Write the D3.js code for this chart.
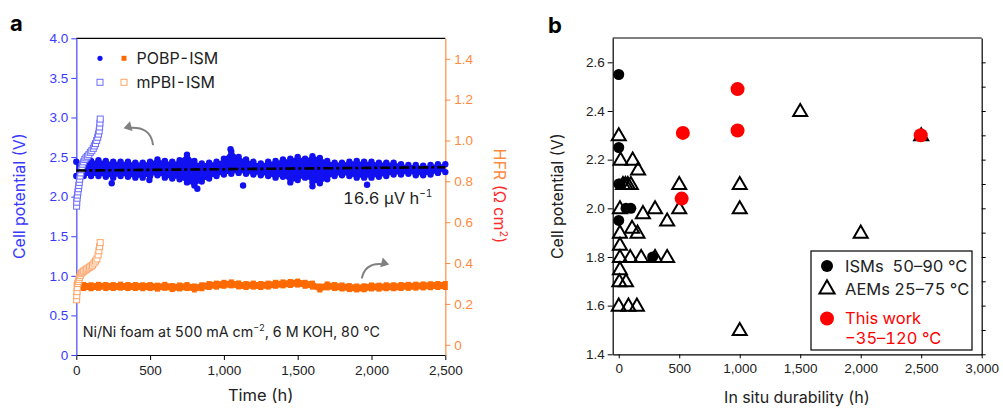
<!DOCTYPE html>
<html>
<head>
<meta charset="utf-8">
<script src="https://cdn.jsdelivr.net/npm/d3@7"></script>
<style>
body { margin:0; background:#fff; }
svg { font-family: Inter, "Noto Sans", sans-serif; font-feature-settings: "tnum"; }
</style>
</head>
<body>
<svg id="chart" width="1003" height="409"></svg>
<script>
// panel a - time axis, every 50 h
var hours = d3.range(0, 2501, 50);
// POBP-ISM cell potential, upper and lower edge of the dot band (V)
var pobpTop = [2.44,2.44,2.45,2.46,2.45,2.44,2.44,2.44,2.43,2.43,2.44,2.47,2.45,2.44,2.46,2.53,2.45,2.42,2.43,2.44,2.48,2.57,2.50,2.47,2.44,2.42,2.44,2.45,2.47,2.48,2.50,2.48,2.51,2.49,2.45,2.43,2.43,2.44,2.45,2.44,2.44,2.43,2.43,2.43,2.41,2.40,2.40,2.39,2.40,2.41,2.41];
var pobpBottom = [2.26,2.26,2.26,2.26,2.25,2.24,2.26,2.25,2.24,2.24,2.26,2.27,2.24,2.23,2.22,2.18,2.14,2.19,2.23,2.26,2.28,2.29,2.30,2.29,2.28,2.27,2.26,2.24,2.25,2.18,2.21,2.24,2.18,2.17,2.22,2.26,2.27,2.26,2.24,2.24,2.24,2.25,2.26,2.28,2.28,2.29,2.27,2.27,2.28,2.30,2.31];
var pobpStray = [[240,2.17],[495,2.21],[820,2.10],[1045,2.60],[1130,2.14],[1600,2.13],[1970,2.15]];
// POBP-ISM HFR (ohm cm2)
var pobpHfr = [0.285,0.285,0.284,0.286,0.285,0.285,0.287,0.285,0.285,0.284,0.285,0.282,0.286,0.280,0.283,0.285,0.278,0.284,0.290,0.292,0.296,0.298,0.293,0.290,0.292,0.290,0.292,0.296,0.298,0.300,0.302,0.296,0.292,0.278,0.288,0.285,0.283,0.280,0.278,0.279,0.283,0.282,0.284,0.284,0.285,0.286,0.287,0.288,0.289,0.290,0.290];
// mPBI-ISM, short test
var mpbiV = [[2,1.88],[3,1.93],[5,1.98],[8,2.02],[11,2.06],[14,2.10],[17,2.14],[20,2.18],[23,2.22],[26,2.26],[30,2.30],[34,2.34],[38,2.38],[43,2.41],[50,2.44],[58,2.47],[66,2.49],[75,2.51],[85,2.53],[95,2.56],[105,2.58],[115,2.61],[122,2.64],[130,2.67],[138,2.71],[145,2.75],[150,2.79],[155,2.83],[158,2.88],[160,2.93],[162,2.98]];
var mpbiHfr = [[2,0.22],[3,0.24],[5,0.26],[7,0.28],[10,0.30],[14,0.31],[18,0.32],[22,0.33],[27,0.34],[33,0.35],[40,0.355],[50,0.36],[60,0.365],[70,0.37],[80,0.375],[90,0.38],[100,0.385],[110,0.39],[120,0.40],[130,0.41],[140,0.42],[148,0.44],[153,0.46],[158,0.48],[162,0.50]];
var fitLine = [[0,2.33],[2500,2.372]];

// panel b - durability vs cell potential
var isms = [[0,2.55],[0,2.25],[0,2.10],[10,2.10],[60,2.0],[100,2.0],[0,1.95],[280,1.80]];
var aems = [[0,2.30],[15,2.20],[115,2.20],[160,2.16],[35,2.10],[55,2.10],[75,2.10],[100,2.10],[500,2.10],[1000,2.10],[1500,2.40],
  [10,2.0],[200,1.98],[300,2.0],[400,1.95],[500,2.0],[1000,2.0],[110,1.92],[155,1.90],[10,1.90],[10,1.85],
  [10,1.80],[95,1.80],[185,1.80],[300,1.80],[400,1.80],[10,1.75],[5,1.70],[60,1.70],[0,1.60],[80,1.60],[150,1.60],[1000,1.50],[2000,1.90],[2500,2.30]];
var thisWork = [[530,2.31],[520,2.04],[982,2.49],[982,2.32],[2496,2.30]];

var blue = "#1010f0", blueLight = "#6b6bff", axisBlue = "#3a3aff";
var orange = "#ff6a00", orangeLight = "#ffa466", axisOrange = "#ff8a3d";
var tickFont = 13.5;

var svg = d3.select("#chart");

// ---------- panel a ----------
var x = d3.scaleLinear().domain([0, 2500]).range([76.3, 445.3]);
var y = d3.scaleLinear().domain([0, 4]).range([355, 38.3]);
var yR = d3.scaleLinear().domain([-0.05, 1.5]).range([355, 38.3]);

var ga = svg.append("g");

ga.append("line").attr("x1", x(0)).attr("x2", x(2500)).attr("y1", 38.3).attr("y2", 38.3).attr("stroke", "#000").attr("stroke-width", 1.2);

var xAx = ga.append("g").attr("transform", "translate(0,355)")
  .call(d3.axisBottom(x).tickValues(d3.range(0, 2501, 500)).tickFormat(d3.format(",")).tickSize(5).tickSizeOuter(0));
xAx.select(".domain").attr("stroke", "#000").attr("stroke-width", 1.2);
xAx.selectAll("text").attr("font-size", tickFont).attr("fill", "#222").attr("dy", "0.9em");

var yAx = ga.append("g").attr("transform", "translate(76.3,0)")
  .call(d3.axisLeft(y).tickValues(d3.range(0, 4.01, 0.5)).tickFormat(function(d){ return d == 0 ? "0" : d3.format(".1f")(d); }).tickSize(5).tickSizeOuter(0));
yAx.select(".domain").attr("stroke", blueLight).attr("stroke-width", 1.5);
yAx.selectAll(".tick line").attr("stroke", axisBlue);
yAx.selectAll("text").attr("font-size", tickFont).attr("fill", axisBlue);

var yRAx = ga.append("g").attr("transform", "translate(445.3,0)")
  .call(d3.axisRight(yR).tickValues(d3.range(0, 1.41, 0.2)).tickFormat(function(d){ return d < 0.01 ? "0" : d3.format(".1f")(d); }).tickSize(5).tickSizeOuter(0));
yRAx.select(".domain").attr("stroke", orangeLight).attr("stroke-width", 1.5);
yRAx.selectAll(".tick line").attr("stroke", axisOrange);
yRAx.selectAll("text").attr("font-size", tickFont).attr("fill", axisOrange).attr("x", 9);

// POBP band
var band = hours.map(function(h, i){ return {h: h, top: pobpTop[i], bot: pobpBottom[i], hfr: pobpHfr[i]}; });
ga.append("path").datum(band)
  .attr("d", d3.area().x(function(d){ return x(d.h); }).y0(function(d){ return y(d.bot); }).y1(function(d){ return y(d.top); }).curve(d3.curveMonotoneX))
  .attr("fill", blue);
ga.selectAll(".ptop").data(band).enter().append("circle")
  .attr("cx", function(d){ return x(d.h); }).attr("cy", function(d){ return y(d.top); }).attr("r", 3.2).attr("fill", blue);
ga.selectAll(".pbot").data(band).enter().append("circle")
  .attr("cx", function(d){ return x(d.h); }).attr("cy", function(d){ return y(d.bot); }).attr("r", 3.2).attr("fill", blue);
ga.selectAll(".pstray").data(pobpStray).enter().append("circle")
  .attr("cx", function(d){ return x(d[0]); }).attr("cy", function(d){ return y(d[1]); }).attr("r", 3.2).attr("fill", blue);

// HFR band
ga.append("path").datum(band)
  .attr("d", d3.area().x(function(d){ return x(d.h); }).y0(function(d){ return yR(d.hfr) + 3.5; }).y1(function(d){ return yR(d.hfr) - 3.5; }).curve(d3.curveMonotoneX))
  .attr("fill", orange);
ga.selectAll(".hsq").data(band).enter().append("rect")
  .attr("x", function(d){ return x(d.h) - 2.5; }).attr("y", function(d){ return yR(d.hfr) - 4.5; }).attr("width", 5).attr("height", 9).attr("fill", orange);

// mPBI
ga.selectAll(".mv").data(mpbiV).enter().append("rect")
  .attr("x", function(d){ return x(d[0]) - 3; }).attr("y", function(d){ return y(d[1]) - 3; }).attr("width", 6).attr("height", 6)
  .attr("fill", "#fff").attr("stroke", blueLight).attr("stroke-width", 1);
ga.selectAll(".mh").data(mpbiHfr).enter().append("rect")
  .attr("x", function(d){ return x(d[0]) - 3; }).attr("y", function(d){ return yR(d[1]) - 3; }).attr("width", 6).attr("height", 6)
  .attr("fill", "#fff").attr("stroke", orangeLight).attr("stroke-width", 1);

// linear fit
ga.append("line").attr("x1", x(fitLine[0][0])).attr("y1", y(fitLine[0][1])).attr("x2", x(fitLine[1][0])).attr("y2", y(fitLine[1][1]))
  .attr("stroke", "#000").attr("stroke-width", 2.6).attr("stroke-dasharray", "10,3,3,3");

// arrows (data units; first on the V axis, second on the HFR axis)
var arrows = [{from: [520, 2.65], ctrl: [505, 2.90], to: [320, 2.865], dir: -1}, {from: [1934, 0.325], ctrl: [1960, 0.41], to: [2120, 0.393], dir: 1}];
arrows.forEach(function(a, i){
  var yy = i == 0 ? y : yR;
  var p = d3.path();
  p.moveTo(x(a.from[0]), yy(a.from[1]));
  p.quadraticCurveTo(x(a.ctrl[0]), yy(a.ctrl[1]), x(a.to[0]) - a.dir * 4, yy(a.to[1]));
  ga.append("path").attr("d", p.toString()).attr("fill", "none").attr("stroke", "#808080").attr("stroke-width", 2);
  var tx = x(a.to[0]), ty = yy(a.to[1]);
  ga.append("path").attr("d", "M" + tx + "," + ty + "l" + (-a.dir * 8) + ",-5l0,10z").attr("fill", "#808080")
    .attr("transform", "rotate(" + (a.dir * 15) + "," + tx + "," + ty + ")");
});

// legend a
ga.append("circle").attr("cx", 100).attr("cy", 58.3).attr("r", 2.6).attr("fill", blue);
ga.append("rect").attr("x", 121.5).attr("y", 55.8).attr("width", 5).attr("height", 5).attr("fill", orange);
ga.append("text").attr("x", 136.5).attr("y", 64).attr("font-size", 16).attr("fill", "#222").text("POBP-ISM");
ga.append("rect").attr("x", 97).attr("y", 79.3).attr("width", 6).attr("height", 6).attr("fill", "none").attr("stroke", blueLight);
ga.append("rect").attr("x", 121).attr("y", 79.3).attr("width", 6).attr("height", 6).attr("fill", "none").attr("stroke", orangeLight);
ga.append("text").attr("x", 136.5).attr("y", 88).attr("font-size", 16).attr("fill", "#222").text("mPBI-ISM");

var rate = ga.append("text").attr("x", 343).attr("y", 204).attr("font-size", 16.5).attr("fill", "#222");
rate.append("tspan").text("16.6 μV h");
rate.append("tspan").attr("dy", -7).attr("font-size", 10).text("−1");

var cond = ga.append("text").attr("x", 82.7).attr("y", 336.5).attr("font-size", 14.3).attr("fill", "#222");
cond.append("tspan").text("Ni/Ni foam at 500 mA cm");
cond.append("tspan").attr("dy", -5.5).attr("font-size", 9).text("−2");
cond.append("tspan").attr("dy", 5.5).text(", 6 M KOH, 80 °C");

ga.append("text").attr("transform", "translate(25,196) rotate(-90)").attr("text-anchor", "middle").attr("font-size", 16).attr("fill", axisBlue).text("Cell potential (V)");
var hfrT = ga.append("text").attr("transform", "translate(494,196) rotate(90)").attr("text-anchor", "middle").attr("font-size", 16);
hfrT.append("tspan").attr("fill", axisOrange).text("HFR ");
hfrT.append("tspan").attr("fill", "#ff2a2a").text("(Ω cm");
hfrT.append("tspan").attr("fill", "#ff2a2a").attr("dy", -6).attr("font-size", 10.5).text("2");
hfrT.append("tspan").attr("fill", "#ff2a2a").attr("dy", 6).text(")");
ga.append("text").attr("x", 260.8).attr("y", 401).attr("text-anchor", "middle").attr("font-size", 16.5).attr("fill", "#222").text("Time (h)");
ga.append("text").attr("x", 10).attr("y", 31).attr("font-size", 22).attr("font-weight", "bold").text("a");

// ---------- panel b ----------
var xb = d3.scaleLinear().domain([-50, 3000]).range([612.7, 981.7]);
var yb = d3.scaleLinear().domain([1.4, 2.7]).range([354.3, 38]);
var gb = svg.append("g");

gb.append("line").attr("x1", xb(-50)).attr("x2", xb(3000)).attr("y1", 38).attr("y2", 38).attr("stroke", "#000").attr("stroke-width", 1.2);
var xbAx = gb.append("g").attr("transform", "translate(0,354.3)")
  .call(d3.axisBottom(xb).tickValues(d3.range(0, 3001, 500)).tickFormat(d3.format(",")).tickSize(4).tickSizeOuter(0));
xbAx.select(".domain").attr("stroke-width", 1.2);
xbAx.selectAll("text").attr("font-size", tickFont).attr("fill", "#222").attr("dy", "0.9em");
var ybAx = gb.append("g").attr("transform", "translate(612.7,0)")
  .call(d3.axisLeft(yb).tickValues(d3.range(1.4, 2.61, 0.2)).tickFormat(d3.format(".1f")).tickSize(5).tickSizeOuter(0));
ybAx.select(".domain").attr("stroke-width", 1.2);
ybAx.selectAll("text").attr("font-size", tickFont).attr("fill", "#222");
var ybR = gb.append("g").attr("transform", "translate(981.7,0)")
  .call(d3.axisRight(yb).tickValues(d3.range(1.4, 2.61, 0.1)).tickFormat("").tickSize(4).tickSizeOuter(0));
ybR.select(".domain").attr("stroke-width", 1.2);

var tri = d3.symbol().type(d3.symbolTriangle).size(85);
gb.selectAll(".ism").data(isms).enter().append("circle")
  .attr("cx", function(d){ return xb(d[0]); }).attr("cy", function(d){ return yb(d[1]); }).attr("r", 5.5).attr("fill", "#000");
gb.selectAll(".aem").data(aems).enter().append("path")
  .attr("d", tri).attr("transform", function(d){ return "translate(" + xb(d[0]) + "," + (yb(d[1]) + 1) + ")"; })
  .attr("fill", "none").attr("stroke", "#000").attr("stroke-width", 2);
gb.selectAll(".tw").data(thisWork).enter().append("circle")
  .attr("cx", function(d){ return xb(d[0]); }).attr("cy", function(d){ return yb(d[1]); }).attr("r", 7).attr("fill", "#ff0000");

// legend b
gb.append("rect").attr("x", 811).attr("y", 251).attr("width", 161).attr("height", 99).attr("fill", "#fff").attr("stroke", "#000").attr("stroke-width", 1.2);
gb.append("circle").attr("cx", 827).attr("cy", 266).attr("r", 6).attr("fill", "#000");
gb.append("path").attr("d", d3.symbol().type(d3.symbolTriangle).size(100)).attr("transform", "translate(827,289)").attr("fill", "none").attr("stroke", "#000").attr("stroke-width", 2);
gb.append("circle").attr("cx", 827).attr("cy", 318.5).attr("r", 7).attr("fill", "#ff0000");
gb.append("text").attr("x", 845).attr("y", 272).attr("font-size", 16.5).attr("fill", "#222").attr("xml:space", "preserve").text("ISMs  50–90 °C");
gb.append("text").attr("x", 845).attr("y", 294.5).attr("font-size", 16.5).attr("fill", "#222").text("AEMs 25–75 °C");
gb.append("text").attr("x", 845).attr("y", 324).attr("font-size", 16.5).attr("fill", "#ff0000").text("This work");
gb.append("text").attr("x", 845).attr("y", 344).attr("font-size", 16.5).attr("fill", "#ff0000").text("−35–120 °C");

gb.append("text").attr("transform", "translate(563,196) rotate(-90)").attr("text-anchor", "middle").attr("font-size", 16).attr("fill", "#222").text("Cell potential (V)");
gb.append("text").attr("x", 797).attr("y", 403).attr("text-anchor", "middle").attr("font-size", 16).attr("fill", "#222").text("In situ durability (h)");
gb.append("text").attr("x", 548).attr("y", 33).attr("font-size", 22).attr("font-weight", "bold").text("b");
</script>
</body>
</html>
